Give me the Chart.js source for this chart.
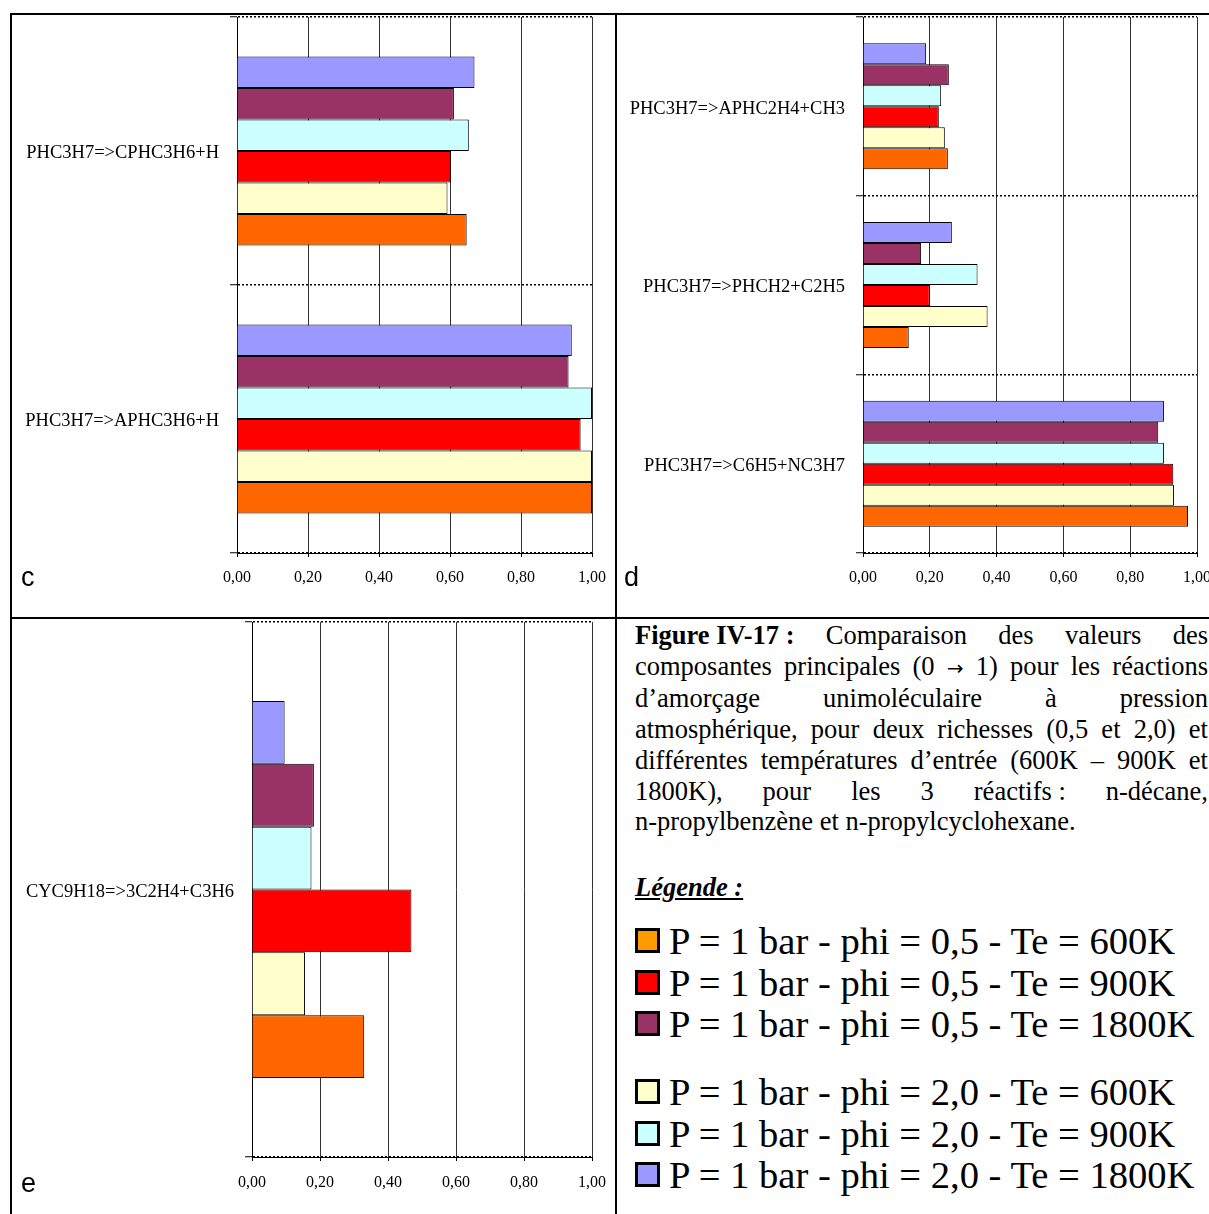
<!DOCTYPE html>
<html>
<head>
<meta charset="utf-8">
<script src="https://cdn.jsdelivr.net/npm/chart.js@4.4.1/dist/chart.umd.min.js"></script>
<style>
  body { margin: 0; background: #fff; width: 1209px; height: 1214px; overflow: hidden; position: relative;
         font-family: "Liberation Serif", "Times New Roman", serif; color: #000; }
  .rule { position: absolute; background: #000; }
  canvas { position: absolute; }
  .tag { position: absolute; font-family: "Liberation Sans", Arial, sans-serif; font-size: 27px; line-height: 27px; }
  #caption { position: absolute; left: 635px; top: 620px; width: 573px; font-size: 26.5px; line-height: 30.7px; }
  #caption div { text-align: justify; text-align-last: justify; }
  #caption div.last { text-align-last: left; }
  #caption .keep { display: inline-block; }
  #caption .arrow { font-family: "DejaVu Sans", sans-serif; font-size: 20px; }
  #legendTitle { position: absolute; left: 635px; top: 872px; font-size: 26.5px; line-height: 30.7px;
                 font-weight: bold; font-style: italic; text-decoration: underline; }
  .lrow { position: absolute; left: 635px; height: 41.5px; font-size: 38.6px; line-height: 41.5px; white-space: nowrap; }
  .lrow .sw { position: absolute; left: 0; top: 7px; width: 19px; height: 19px; border: 3px solid #000; }
  .lrow .txt { position: absolute; left: 34px; top: 0; }
</style>
</head>
<body>

<div class="rule" style="left:10px; top:13px; width:1199px; height:2px;"></div>
<div class="rule" style="left:10px; top:13px; width:2px; height:1201px;"></div>
<div class="rule" style="left:615px; top:13px; width:2px; height:1201px;"></div>
<div class="rule" style="left:10px; top:617px; width:1199px; height:2px;"></div>

<canvas id="chartC" width="603" height="602" style="left:12px; top:15px; width:603px; height:602px;"></canvas>
<canvas id="chartD" width="592" height="602" style="left:617px; top:15px; width:592px; height:602px;"></canvas>
<canvas id="chartE" width="603" height="595" style="left:12px; top:619px; width:603px; height:595px;"></canvas>

<div class="tag" style="left:21px; top:564px;">c</div>
<div class="tag" style="left:624px; top:564px;">d</div>
<div class="tag" style="left:21px; top:1170px;">e</div>

<div id="caption">
  <div><b class="keep">Figure IV-17 :</b> Comparaison des valeurs des</div>
  <div>composantes principales (0 <span class="arrow">→</span> 1) pour les réactions</div>
  <div>d’amorçage unimoléculaire à pression</div>
  <div>atmosphérique, pour deux richesses (0,5 et 2,0) et</div>
  <div>différentes températures d’entrée (600K – 900K et</div>
  <div>1800K), pour les 3 <span class="keep">réactifs :</span> n-décane,</div>
  <div class="last">n-propylbenzène et n-propylcyclohexane.</div>
</div>
<div id="legendTitle">Légende&nbsp;:</div>
<div id="legend"></div>

<script>
// series (same order in every panel)
const seriesNames = [
  'P = 1 bar - phi = 0,5 - Te = 600K',
  'P = 1 bar - phi = 0,5 - Te = 900K',
  'P = 1 bar - phi = 0,5 - Te = 1800K',
  'P = 1 bar - phi = 2,0 - Te = 600K',
  'P = 1 bar - phi = 2,0 - Te = 900K',
  'P = 1 bar - phi = 2,0 - Te = 1800K'
];
const barColours = ['#FF6600', '#FF0000', '#993366', '#FFFFCC', '#CCFFFF', '#9999FF'];
const legendColours = ['#FF9900', '#FF0000', '#993366', '#FFFFCC', '#CCFFFF', '#9999FF'];
// bars inside a group, top to bottom
const barOrder = [5, 2, 4, 1, 3, 0];
const xTickLabels = ['0,00', '0,20', '0,40', '0,60', '0,80', '1,00'];

// panel c
const catsC = ['PHC3H7=>CPHC3H6+H', 'PHC3H7=>APHC3H6+H'];
const c05_600 = [0.647, 1.00];
const c05_900 = [0.603, 0.968];
const c05_1800 = [0.611, 0.934];
const c20_600 = [0.593, 1.00];
const c20_900 = [0.653, 1.00];
const c20_1800 = [0.669, 0.943];

// panel d
const catsD = ['PHC3H7=>APHC2H4+CH3', 'PHC3H7=>PHCH2+C2H5', 'PHC3H7=>C6H5+NC3H7'];
const d05_600 = [0.254, 0.137, 0.973];
const d05_900 = [0.227, 0.200, 0.929];
const d05_1800 = [0.257, 0.174, 0.884];
const d20_600 = [0.245, 0.373, 0.931];
const d20_900 = [0.234, 0.343, 0.901];
const d20_1800 = [0.189, 0.266, 0.901];

// panel e
const catsE = ['CYC9H18=>3C2H4+C3H6'];
const e05_600 = [0.330];
const e05_900 = [0.469];
const e05_1800 = [0.182];
const e20_600 = [0.156];
const e20_900 = [0.175];
const e20_1800 = [0.096];

const serif = '"Liberation Serif", "Times New Roman", serif';

function makePanel(id, cats, values, g) {
  new Chart(document.getElementById(id), {
    type: 'bar',
    data: {
      labels: cats,
      datasets: barOrder.map(i => ({
        label: seriesNames[i],
        data: values[i],
        backgroundColor: barColours[i],
        borderColor: '#000',
        borderWidth: 1,
        categoryPercentage: 0.705,
        barPercentage: 1
      }))
    },
    options: {
      indexAxis: 'y',
      responsive: false,
      animation: false,
      layout: { padding: { top: g.top, right: g.right, left: 0, bottom: 0 } },
      plugins: { legend: { display: false }, tooltip: { enabled: false } },
      scales: {
        x: {
          min: 0, max: 1,
          ticks: { stepSize: 0.2, color: '#000', font: { family: serif, size: 16 }, padding: g.xPad,
                   maxRotation: 0, autoSkip: false, callback: (v, i) => xTickLabels[i] },
          grid: { color: '#333', tickLength: 4, tickColor: '#000' },
          border: { color: '#000' },
          afterFit: s => { s.height = g.xHeight; s.paddingLeft = 0; s.paddingRight = 0; }
        },
        y: {
          ticks: { color: '#000', font: { family: serif, size: 18.5 }, padding: 11, autoSkip: false, labelOffset: 2.5 },
          grid: { color: '#000', lineWidth: 1.5, tickLength: 7, tickColor: '#000', tickWidth: 1, offset: true },
          border: { color: '#000', dash: [2, 2] },
          afterFit: s => { s.width = g.yWidth; s.paddingTop = 0; s.paddingBottom = 0; }
        }
      }
    }
  });
}

makePanel('chartC', catsC, [c05_600, c05_900, c05_1800, c20_600, c20_900, c20_1800],
  { top: 2, right: 23, yWidth: 225, xHeight: 64, xPad: 11 });
makePanel('chartD', catsD, [d05_600, d05_900, d05_1800, d20_600, d20_900, d20_1800],
  { top: 2, right: 12, yWidth: 246, xHeight: 64, xPad: 11 });
makePanel('chartE', catsE, [e05_600, e05_900, e05_1800, e20_600, e20_900, e20_1800],
  { top: 3, right: 23, yWidth: 240, xHeight: 57, xPad: 12 });

// legend block in the text panel
const legendTops = [921, 962.5, 1004, 1072, 1113.5, 1155];
const legend = document.getElementById('legend');
seriesNames.forEach((name, i) => {
  const row = document.createElement('div');
  row.className = 'lrow';
  row.style.top = legendTops[i] + 'px';
  row.innerHTML = `<span class="sw" style="background:${legendColours[i]}"></span><span class="txt">${name}</span>`;
  legend.appendChild(row);
});
</script>
</body>
</html>
